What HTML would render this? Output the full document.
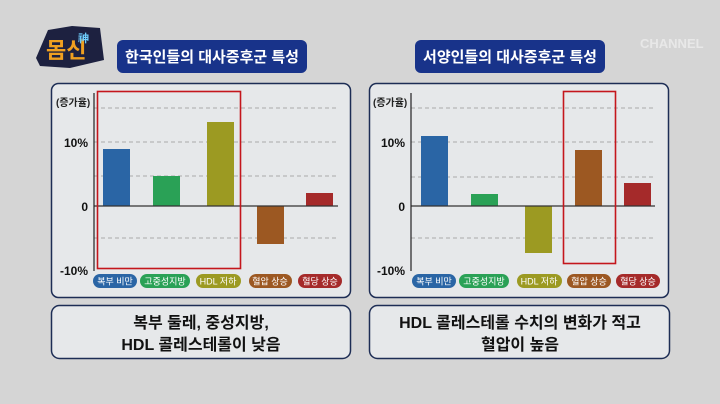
<!DOCTYPE html>
<html><head><meta charset="utf-8"><style>
html,body{margin:0;padding:0;width:720px;height:404px;overflow:hidden;background:#d6d6d6}
svg{display:block}
text{font-family:"Liberation Sans","Noto Sans CJK KR",sans-serif}
</style></head><body>
<svg width="720" height="404" viewBox="0 0 720 404" xmlns="http://www.w3.org/2000/svg">
<rect width="720" height="404" fill="#d5d5d5"/>
<!-- logo -->
<g>
<path d="M36 58 L48 30 L72 26 L100 28 L104 60 L70 68 L40 66 Z" fill="#1d2140"/>
<text x="46" y="58" font-size="22" font-weight="bold" fill="#f0a020" font-family="Noto Sans CJK KR">몸신</text>
<text x="78" y="42" font-size="11" font-weight="bold" fill="#6fd0ff" font-family="Noto Sans CJK KR">神</text>
</g>
<text x="640" y="48" font-size="13" font-weight="bold" fill="#ededed" opacity="0.8">CHANNEL</text>

<!-- title boxes -->
<rect x="117" y="40" width="190" height="33" rx="6" fill="#18338a"/>
<text x="212" y="62" font-size="15" font-weight="bold" fill="#fff" text-anchor="middle" font-family="Noto Sans CJK KR">한국인들의 대사증후군 특성</text>
<rect x="415" y="40" width="190" height="33" rx="6" fill="#18338a"/>
<text x="510" y="62" font-size="15" font-weight="bold" fill="#fff" text-anchor="middle" font-family="Noto Sans CJK KR">서양인들의 대사증후군 특성</text>

<!-- panels -->
<rect x="51.5" y="83.5" width="299" height="214" rx="7" fill="#e6e8ea" stroke="#1d2d55" stroke-width="1.5"/>
<rect x="369.5" y="83.5" width="299" height="214" rx="7" fill="#e6e8ea" stroke="#1d2d55" stroke-width="1.5"/>
<rect x="51.5" y="305.5" width="299" height="53" rx="8" fill="#e6e8ea" stroke="#1d2d55" stroke-width="1.5"/>
<rect x="369.5" y="305.5" width="300" height="53" rx="8" fill="#e6e8ea" stroke="#1d2d55" stroke-width="1.5"/>
<text x="201" y="328" font-size="16" font-weight="bold" fill="#111" text-anchor="middle" font-family="Noto Sans CJK KR">복부 둘레, 중성지방,</text>
<text x="201" y="350" font-size="16" font-weight="bold" fill="#111" text-anchor="middle" font-family="Noto Sans CJK KR">HDL 콜레스테롤이 낮음</text>
<text x="520" y="328" font-size="16" font-weight="bold" fill="#111" text-anchor="middle" font-family="Noto Sans CJK KR">HDL 콜레스테롤 수치의 변화가 적고</text>
<text x="520" y="350" font-size="16" font-weight="bold" fill="#111" text-anchor="middle" font-family="Noto Sans CJK KR">혈압이 높음</text>

<!-- left chart -->
<g>
<g stroke="#aaa" stroke-dasharray="4,3" stroke-width="1">
<line x1="94" y1="108" x2="338" y2="108"/><line x1="94" y1="142" x2="338" y2="142"/>
<line x1="94" y1="176" x2="338" y2="176"/><line x1="94" y1="238" x2="338" y2="238"/>
</g>
<rect x="103" y="149" width="27" height="57" fill="#2a65a5"/>
<rect x="153" y="176" width="27" height="30" fill="#2aa156"/>
<rect x="207" y="122" width="27" height="84" fill="#9c9a22"/>
<rect x="257" y="206" width="27" height="38" fill="#9c5822"/>
<rect x="306" y="193" width="27" height="13" fill="#a52a2a"/>
<line x1="94" y1="206" x2="338" y2="206" stroke="#333" stroke-width="1.2"/>
<line x1="94" y1="93" x2="94" y2="271" stroke="#222" stroke-width="1.2"/>
<rect x="97.5" y="91.5" width="143" height="177" fill="none" stroke="#c4161c" stroke-width="1.6"/>
<text x="56" y="106" font-size="10" font-weight="bold" fill="#222" font-family="Noto Sans CJK KR">(증가율)</text>
<text x="88" y="147" font-size="12" font-weight="bold" fill="#111" text-anchor="end">10%</text>
<text x="88" y="211" font-size="12" font-weight="bold" fill="#111" text-anchor="end">0</text>
<text x="88" y="275" font-size="12" font-weight="bold" fill="#111" text-anchor="end">-10%</text>
</g>
<g font-size="9" fill="#fff" text-anchor="middle" font-family="Noto Sans CJK KR">
<rect x="93" y="274" width="44" height="14" rx="7" fill="#2a65a5"/><text x="115" y="284.5">복부 비만</text>
<rect x="140" y="274" width="50" height="14" rx="7" fill="#2aa156"/><text x="165" y="284.5">고중성지방</text>
<rect x="196" y="274" width="45" height="14" rx="7" fill="#9c9a22"/><text x="218" y="284.5">HDL 저하</text>
<rect x="249" y="274" width="43" height="14" rx="7" fill="#9c5822"/><text x="270" y="284.5">혈압 상승</text>
<rect x="298" y="274" width="44" height="14" rx="7" fill="#a52a2a"/><text x="320" y="284.5">혈당 상승</text>
</g>

<!-- right chart -->
<g>
<g stroke="#aaa" stroke-dasharray="4,3" stroke-width="1">
<line x1="411" y1="108" x2="655" y2="108"/><line x1="411" y1="142" x2="655" y2="142"/>
<line x1="411" y1="177" x2="655" y2="177"/><line x1="411" y1="238" x2="655" y2="238"/>
</g>
<rect x="421" y="136" width="27" height="70" fill="#2a65a5"/>
<rect x="471" y="194" width="27" height="12" fill="#2aa156"/>
<rect x="525" y="206" width="27" height="47" fill="#9c9a22"/>
<rect x="575" y="150" width="27" height="56" fill="#9c5822"/>
<rect x="624" y="183" width="27" height="23" fill="#a52a2a"/>
<line x1="411" y1="206" x2="655" y2="206" stroke="#333" stroke-width="1.2"/>
<line x1="411" y1="93" x2="411" y2="271" stroke="#222" stroke-width="1.2"/>
<rect x="563.5" y="91.5" width="52" height="172" fill="none" stroke="#c4161c" stroke-width="1.6"/>
<text x="373" y="106" font-size="10" font-weight="bold" fill="#222" font-family="Noto Sans CJK KR">(증가율)</text>
<text x="405" y="147" font-size="12" font-weight="bold" fill="#111" text-anchor="end">10%</text>
<text x="405" y="211" font-size="12" font-weight="bold" fill="#111" text-anchor="end">0</text>
<text x="405" y="275" font-size="12" font-weight="bold" fill="#111" text-anchor="end">-10%</text>
</g>
<g font-size="9" fill="#fff" text-anchor="middle" font-family="Noto Sans CJK KR">
<rect x="412" y="274" width="44" height="14" rx="7" fill="#2a65a5"/><text x="434" y="284.5">복부 비만</text>
<rect x="459" y="274" width="50" height="14" rx="7" fill="#2aa156"/><text x="484" y="284.5">고중성지방</text>
<rect x="517" y="274" width="45" height="14" rx="7" fill="#9c9a22"/><text x="539" y="284.5">HDL 저하</text>
<rect x="567" y="274" width="44" height="14" rx="7" fill="#9c5822"/><text x="589" y="284.5">혈압 상승</text>
<rect x="616" y="274" width="44" height="14" rx="7" fill="#a52a2a"/><text x="638" y="284.5">혈당 상승</text>
</g>
</svg>
</body></html>
